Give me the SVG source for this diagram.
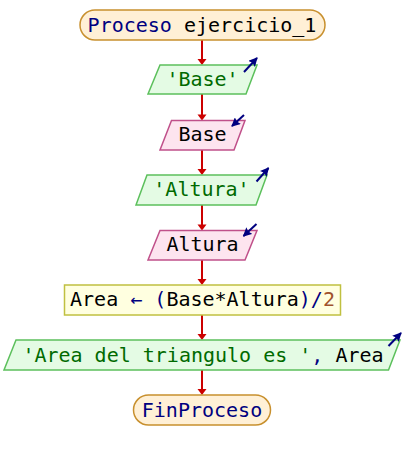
<svg xmlns="http://www.w3.org/2000/svg" width="404" height="460" viewBox="0 0 404 460">
<style>
text{font-family:"DejaVu Sans Mono","Liberation Mono",monospace;font-size:20px;text-anchor:middle}
.term{fill:#fff0d6;stroke:#c8902e;stroke-width:1.5}
.out{fill:#e4fbe4;stroke:#5cc05c;stroke-width:1.5}
.in{fill:#fde4ef;stroke:#c0508a;stroke-width:1.5}
.asg{fill:#ffffe0;stroke:#c0c040;stroke-width:1.5}
.kw{fill:#000080}
.str{fill:#006a00}
.id{fill:#000000}
.num{fill:#a0522d}
.flow{stroke:#cc0000;stroke-width:2;fill:none}
.io{stroke:#000080;stroke-width:2;fill:none;marker-end:url(#ioh)}
</style>
<defs>
<marker id="ioh" markerWidth="9" markerHeight="9" refX="8" refY="4.5" orient="auto" markerUnits="userSpaceOnUse" viewBox="0 0 9 9">
<path d="M0,0 L9,4.5 L0,9 L1.5,4.5 Z" fill="#000080"/>
</marker>
</defs>
<g id="connectors">
<line class="flow" x1="202" y1="40" x2="202" y2="60"/>
<line class="flow" x1="202" y1="94" x2="202" y2="115"/>
<line class="flow" x1="202" y1="150" x2="202" y2="170"/>
<line class="flow" x1="202" y1="205" x2="202" y2="225"/>
<line class="flow" x1="202" y1="260" x2="202" y2="280"/>
<line class="flow" x1="202" y1="315" x2="202" y2="335"/>
<line class="flow" x1="202" y1="370" x2="202" y2="390"/>
<g fill="#cc0000">
<path d="M197.5,59 L206.5,59 L202,65 Z"/>
<path d="M197.5,114.5 L206.5,114.5 L202,120.5 Z"/>
<path d="M197.5,169 L206.5,169 L202,175 Z"/>
<path d="M197.5,224.5 L206.5,224.5 L202,230.5 Z"/>
<path d="M197.5,279 L206.5,279 L202,285 Z"/>
<path d="M197.5,334 L206.5,334 L202,340 Z"/>
<path d="M197.5,389 L206.5,389 L202,395 Z"/>
</g>
</g>
<g id="start">
<rect class="term" x="80" y="10" width="245" height="30" rx="15" ry="15"/>
<text x="202" y="31.5"><tspan class="kw">Proceso</tspan><tspan class="id"> ejercicio_1</tspan></text>
</g>
<g id="out_base">
<polygon class="out" points="160,65 257,65 246,94 148,94"/>
<text class="str" x="202.5" y="86">'Base'</text>
<line class="io" x1="244" y1="72" x2="257" y2="58"/>
</g>
<g id="in_base">
<polygon class="in" points="171.5,120.5 245,120.5 234,150 160,150"/>
<text class="id" x="202.5" y="141">Base</text>
<line class="io" x1="244" y1="115" x2="232" y2="126"/>
</g>
<g id="out_altura">
<polygon class="out" points="147,175 267,175 256,205 136,205"/>
<text class="str" x="201.5" y="196">'Altura'</text>
<line class="io" x1="256.5" y1="181.5" x2="268.5" y2="168"/>
</g>
<g id="in_altura">
<polygon class="in" points="160,230.5 257,230.5 245,260 148,260"/>
<text class="id" x="202.5" y="251">Altura</text>
<line class="io" x1="256.5" y1="224" x2="243.5" y2="236"/>
</g>
<g id="assign">
<rect class="asg" x="64.5" y="285" width="276" height="30"/>
<text x="202.5" y="306"><tspan class="id">Area </tspan><tspan class="kw">← (</tspan><tspan class="id">Base*Altura</tspan><tspan class="kw">)/</tspan><tspan class="num">2</tspan></text>
</g>
<g id="out_area">
<polygon class="out" points="16,340 400,340 388.5,370 4,370"/>
<text x="203" y="361.5"><tspan class="str">'Area del triangulo es '</tspan><tspan class="kw">, </tspan><tspan class="id">Area</tspan></text>
<line class="io" x1="388.5" y1="346" x2="401" y2="333"/>
</g>
<g id="end">
<rect class="term" x="133.5" y="395" width="137" height="30" rx="15" ry="15"/>
<text class="kw" x="202" y="416.5">FinProceso</text>
</g>
</svg>
